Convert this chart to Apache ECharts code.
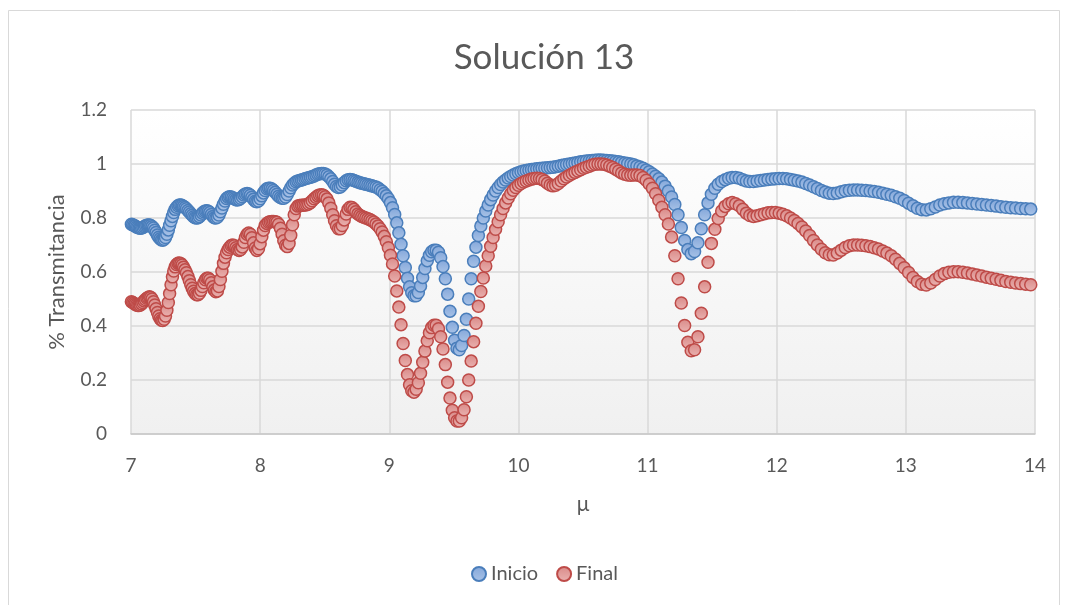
<!DOCTYPE html>
<html>
<head>
<meta charset="utf-8">
<script src="https://cdn.jsdelivr.net/npm/echarts@6/dist/echarts.min.js"></script>
<style>
  html, body { margin: 0; padding: 0; background: #ffffff; }
  #chart { width: 1065px; height: 605px; }
</style>
</head>
<body>
<div id="chart"></div>
<script>
// Wavelength axis (μ), one entry per spectrum sample
const mu = [
  7.003,7.013,7.023,7.032,7.042,7.052,7.062,7.072,7.082,7.092,
  7.102,7.112,7.123,7.133,7.143,7.153,7.163,7.174,7.184,7.194,
  7.205,7.215,7.225,7.236,7.246,7.257,7.267,7.278,7.289,7.299,
  7.310,7.321,7.331,7.342,7.353,7.364,7.375,7.386,7.396,7.407,
  7.418,7.429,7.441,7.452,7.463,7.474,7.485,7.496,7.508,7.519,
  7.530,7.542,7.553,7.564,7.576,7.587,7.599,7.610,7.622,7.634,
  7.645,7.657,7.669,7.681,7.692,7.704,7.716,7.728,7.740,7.752,
  7.764,7.776,7.788,7.800,7.812,7.825,7.837,7.849,7.862,7.874,
  7.886,7.899,7.911,7.924,7.936,7.949,7.962,7.974,7.987,8.000,
  8.013,8.026,8.039,8.052,8.065,8.078,8.091,8.104,8.117,8.130,
  8.143,8.157,8.170,8.183,8.197,8.210,8.224,8.237,8.251,8.264,
  8.278,8.292,8.306,8.320,8.333,8.347,8.361,8.375,8.389,8.403,
  8.418,8.432,8.446,8.460,8.475,8.489,8.503,8.518,8.532,8.547,
  8.562,8.576,8.591,8.606,8.621,8.636,8.651,8.666,8.681,8.696,
  8.711,8.726,8.741,8.757,8.772,8.787,8.803,8.818,8.834,8.850,
  8.865,8.881,8.897,8.913,8.929,8.945,8.961,8.977,8.993,9.009,
  9.025,9.042,9.058,9.074,9.091,9.107,9.124,9.141,9.157,9.174,
  9.191,9.208,9.225,9.242,9.259,9.276,9.294,9.311,9.328,9.346,
  9.363,9.381,9.398,9.416,9.434,9.452,9.470,9.488,9.506,9.524,
  9.542,9.560,9.579,9.597,9.615,9.634,9.653,9.671,9.690,9.709,
  9.728,9.747,9.766,9.785,9.804,9.823,9.843,9.862,9.881,9.901,
  9.921,9.940,9.960,9.980,10.000,10.020,10.040,10.060,10.081,10.101,
  10.121,10.142,10.163,10.183,10.204,10.225,10.246,10.267,10.288,10.309,
  10.331,10.352,10.373,10.395,10.417,10.438,10.460,10.482,10.504,10.526,
  10.549,10.571,10.593,10.616,10.638,10.661,10.684,10.707,10.730,10.753,
  10.776,10.799,10.823,10.846,10.870,10.893,10.917,10.941,10.965,10.989,
  11.013,11.038,11.062,11.087,11.111,11.136,11.161,11.186,11.211,11.236,
  11.261,11.287,11.312,11.338,11.364,11.390,11.416,11.442,11.468,11.494,
  11.521,11.547,11.574,11.601,11.628,11.655,11.682,11.710,11.737,11.765,
  11.792,11.820,11.848,11.876,11.905,11.933,11.962,11.990,12.019,12.048,
  12.077,12.107,12.136,12.165,12.195,12.225,12.255,12.285,12.315,12.346,
  12.376,12.407,12.438,12.469,12.500,12.531,12.563,12.595,12.626,12.658,
  12.690,12.723,12.755,12.788,12.821,12.853,12.887,12.920,12.953,12.987,
  13.021,13.055,13.089,13.123,13.158,13.193,13.228,13.263,13.298,13.333,
  13.369,13.405,13.441,13.477,13.514,13.550,13.587,13.624,13.661,13.699,
  13.736,13.774,13.812,13.850,13.889,13.928,13.967
];

// Transmittance at the start of the run
const inicio = [
  0.777,0.775,0.772,0.770,0.767,0.765,0.763,0.762,0.763,0.765,
  0.768,0.771,0.773,0.774,0.774,0.772,0.768,0.763,0.755,0.746,
  0.737,0.729,0.723,0.719,0.718,0.721,0.728,0.740,0.756,0.773,
  0.790,0.806,0.820,0.832,0.840,0.845,0.848,0.848,0.846,0.843,
  0.839,0.834,0.828,0.822,0.816,0.810,0.805,0.801,0.800,0.801,
  0.805,0.811,0.818,0.823,0.826,0.827,0.825,0.820,0.813,0.806,
  0.801,0.800,0.803,0.811,0.823,0.837,0.851,0.863,0.872,0.877,
  0.879,0.878,0.875,0.871,0.868,0.867,0.869,0.873,0.879,0.885,
  0.889,0.891,0.889,0.884,0.877,0.869,0.862,0.860,0.863,0.871,
  0.882,0.893,0.902,0.908,0.910,0.910,0.907,0.902,0.895,0.888,
  0.881,0.876,0.873,0.873,0.878,0.887,0.900,0.912,0.922,0.929,
  0.934,0.937,0.939,0.941,0.943,0.945,0.947,0.949,0.951,0.953,
  0.956,0.959,0.962,0.964,0.965,0.965,0.963,0.959,0.953,0.945,
  0.935,0.925,0.917,0.913,0.915,0.922,0.931,0.938,0.942,0.943,
  0.942,0.939,0.936,0.933,0.931,0.929,0.927,0.925,0.923,0.921,
  0.919,0.917,0.915,0.911,0.905,0.899,0.891,0.882,0.871,0.857,
  0.838,0.813,0.782,0.745,0.703,0.660,0.617,0.577,0.545,0.523,
  0.512,0.512,0.524,0.548,0.580,0.613,0.642,0.662,0.675,0.681,
  0.681,0.673,0.653,0.620,0.575,0.518,0.455,0.395,0.347,0.318,
  0.312,0.328,0.365,0.425,0.500,0.575,0.640,0.692,0.735,0.770,
  0.800,0.826,0.848,0.868,0.885,0.900,0.913,0.924,0.933,0.941,
  0.948,0.954,0.959,0.964,0.968,0.971,0.974,0.976,0.978,0.980,
  0.981,0.982,0.983,0.984,0.985,0.986,0.987,0.988,0.990,0.992,
  0.994,0.996,0.998,1.000,1.002,1.004,1.006,1.008,1.009,1.011,
  1.012,1.013,1.014,1.015,1.015,1.014,1.013,1.012,1.011,1.009,
  1.008,1.006,1.004,1.002,1.000,0.997,0.993,0.989,0.984,0.978,
  0.971,0.963,0.955,0.945,0.933,0.918,0.900,0.878,0.850,0.812,
  0.765,0.717,0.683,0.668,0.676,0.708,0.760,0.812,0.856,0.888,
  0.910,0.925,0.935,0.942,0.947,0.950,0.950,0.947,0.942,0.937,
  0.935,0.935,0.937,0.939,0.941,0.943,0.944,0.945,0.946,0.946,
  0.945,0.943,0.940,0.937,0.933,0.928,0.922,0.916,0.909,0.902,
  0.896,0.892,0.891,0.893,0.897,0.901,0.903,0.904,0.904,0.903,
  0.902,0.900,0.898,0.895,0.892,0.888,0.884,0.879,0.873,0.865,
  0.855,0.845,0.836,0.831,0.830,0.834,0.841,0.848,0.853,0.856,
  0.858,0.858,0.857,0.856,0.854,0.852,0.850,0.848,0.846,0.844,
  0.842,0.840,0.838,0.837,0.835,0.834,0.833
];

// Transmittance at the end of the run
const final = [
  0.490,0.487,0.484,0.481,0.478,0.476,0.476,0.478,0.482,0.487,
  0.493,0.498,0.503,0.506,0.508,0.506,0.500,0.490,0.478,0.464,
  0.450,0.437,0.427,0.421,0.420,0.425,0.437,0.458,0.487,0.520,
  0.553,0.582,0.604,0.619,0.628,0.632,0.633,0.631,0.626,0.618,
  0.608,0.597,0.583,0.568,0.553,0.540,0.529,0.520,0.516,0.516,
  0.521,0.532,0.546,0.560,0.571,0.577,0.577,0.571,0.560,0.545,
  0.533,0.527,0.530,0.546,0.572,0.603,0.632,0.655,0.671,0.683,
  0.692,0.698,0.700,0.697,0.690,0.683,0.680,0.683,0.693,0.710,
  0.728,0.740,0.744,0.740,0.727,0.708,0.689,0.680,0.686,0.705,
  0.731,0.755,0.772,0.780,0.784,0.786,0.787,0.787,0.786,0.784,
  0.777,0.762,0.740,0.716,0.699,0.694,0.706,0.736,0.775,0.812,
  0.835,0.844,0.846,0.847,0.847,0.848,0.849,0.852,0.857,0.864,
  0.871,0.877,0.882,0.885,0.886,0.884,0.879,0.870,0.856,0.836,
  0.812,0.790,0.771,0.760,0.760,0.772,0.793,0.815,0.832,0.840,
  0.839,0.832,0.823,0.815,0.810,0.806,0.803,0.800,0.797,0.794,
  0.790,0.785,0.778,0.770,0.760,0.748,0.732,0.712,0.690,0.662,
  0.630,0.585,0.530,0.470,0.405,0.335,0.272,0.220,0.182,0.160,
  0.155,0.166,0.190,0.225,0.266,0.307,0.345,0.375,0.394,0.403,
  0.403,0.390,0.360,0.315,0.257,0.192,0.133,0.088,0.060,0.048,
  0.048,0.060,0.090,0.138,0.200,0.270,0.342,0.410,0.473,0.528,
  0.578,0.622,0.660,0.695,0.728,0.758,0.786,0.812,0.835,0.856,
  0.874,0.890,0.903,0.913,0.921,0.928,0.933,0.937,0.941,0.944,
  0.946,0.947,0.946,0.943,0.937,0.929,0.922,0.919,0.921,0.928,
  0.937,0.945,0.952,0.958,0.964,0.969,0.974,0.979,0.984,0.988,
  0.992,0.996,0.999,1.000,1.000,0.999,0.996,0.992,0.987,0.981,
  0.974,0.967,0.962,0.959,0.958,0.959,0.959,0.957,0.950,0.940,
  0.926,0.910,0.890,0.866,0.840,0.812,0.778,0.730,0.660,0.575,
  0.485,0.402,0.340,0.308,0.312,0.360,0.447,0.545,0.636,0.706,
  0.758,0.798,0.826,0.843,0.853,0.857,0.853,0.845,0.832,0.818,
  0.809,0.806,0.808,0.812,0.816,0.819,0.820,0.820,0.818,0.814,
  0.808,0.800,0.791,0.780,0.767,0.752,0.735,0.717,0.700,0.684,
  0.671,0.664,0.663,0.670,0.681,0.691,0.697,0.700,0.700,0.699,
  0.697,0.694,0.690,0.685,0.678,0.670,0.660,0.647,0.632,0.616,
  0.598,0.580,0.565,0.555,0.552,0.559,0.572,0.585,0.594,0.599,
  0.601,0.601,0.599,0.596,0.593,0.589,0.585,0.581,0.577,0.573,
  0.569,0.565,0.562,0.559,0.557,0.555,0.553
];

const seriesNames = ['Inicio', 'Final'];
const chartTitle = 'Solución 13';
const xAxisTitle = 'μ';
const yAxisTitle = '% Transmitancia';

const FONT = 'Lato, "Open Sans", sans-serif';
const TEXT = '#595959';

function verticalFill(top, bottom) {
  return {
    type: 'linear', x: 0, y: 0, x2: 0, y2: 1,
    colorStops: [{ offset: 0, color: top }, { offset: 1, color: bottom }]
  };
}

const chart = echarts.init(document.getElementById('chart'), null, { renderer: 'canvas' });

chart.setOption({
  animation: false,
  backgroundColor: '#ffffff',
  graphic: [{
    type: 'rect',
    silent: true,
    z: -10,
    shape: { x: 8.5, y: 10.5, width: 1051, height: 620 },
    style: { fill: 'none', stroke: '#d9d9d9', lineWidth: 1 }
  }],
  title: {
    text: chartTitle,
    left: 539,
    textAlign: 'center',
    top: 35,
    textStyle: { fontFamily: FONT, fontSize: 35, fontWeight: 'normal', color: TEXT }
  },
  legend: {
    data: seriesNames,
    left: 466,
    top: 559,
    icon: 'circle',
    itemWidth: 14,
    itemHeight: 14,
    itemGap: 18,
    textStyle: { fontFamily: FONT, fontSize: 20, color: TEXT }
  },
  grid: {
    left: 131, right: 30, top: 110, bottom: 171,
    outerBoundsMode: 'none',
    show: true,
    borderWidth: 0,
    backgroundColor: verticalFill('#ffffff', '#f0f0f0')
  },
  xAxis: {
    type: 'value',
    min: 7, max: 14, interval: 1,
    name: xAxisTitle,
    nameLocation: 'middle',
    nameGap: 60,
    nameTextStyle: { fontFamily: FONT, fontSize: 21, color: TEXT },
    axisLine: { show: true, lineStyle: { color: '#c8c8c8', width: 1.5 } },
    axisTick: { show: false },
    axisLabel: { fontFamily: FONT, fontSize: 19, color: TEXT, margin: 22 },
    splitLine: { show: true, lineStyle: { color: '#d9d9d9', width: 1.5 } }
  },
  yAxis: {
    type: 'value',
    min: 0, max: 1.2, interval: 0.2,
    name: yAxisTitle,
    nameLocation: 'middle',
    nameGap: 63,
    nameTextStyle: { fontFamily: FONT, fontSize: 22, color: TEXT },
    axisLine: { show: false },
    axisTick: { show: false },
    axisLabel: { fontFamily: FONT, fontSize: 19, color: TEXT, margin: 24 },
    splitLine: { show: true, lineStyle: { color: '#d9d9d9', width: 1.5 } }
  },
  series: [
    {
      name: seriesNames[0],
      type: 'scatter',
      symbol: 'circle',
      symbolSize: 12,
      data: mu.map((m, i) => [m, inicio[i]]),
      itemStyle: {
        color: verticalFill('#84a7da', '#a9c3e7'),
        borderColor: '#4a7ebb',
        borderWidth: 1.5,
        opacity: 1
      }
    },
    {
      name: seriesNames[1],
      type: 'scatter',
      symbol: 'circle',
      symbolSize: 12,
      data: mu.map((m, i) => [m, final[i]]),
      itemStyle: {
        color: verticalFill('#d98a88', '#eab2b0'),
        borderColor: '#be4b48',
        borderWidth: 1.5,
        opacity: 1
      }
    }
  ]
});
</script>
</body>
</html>
